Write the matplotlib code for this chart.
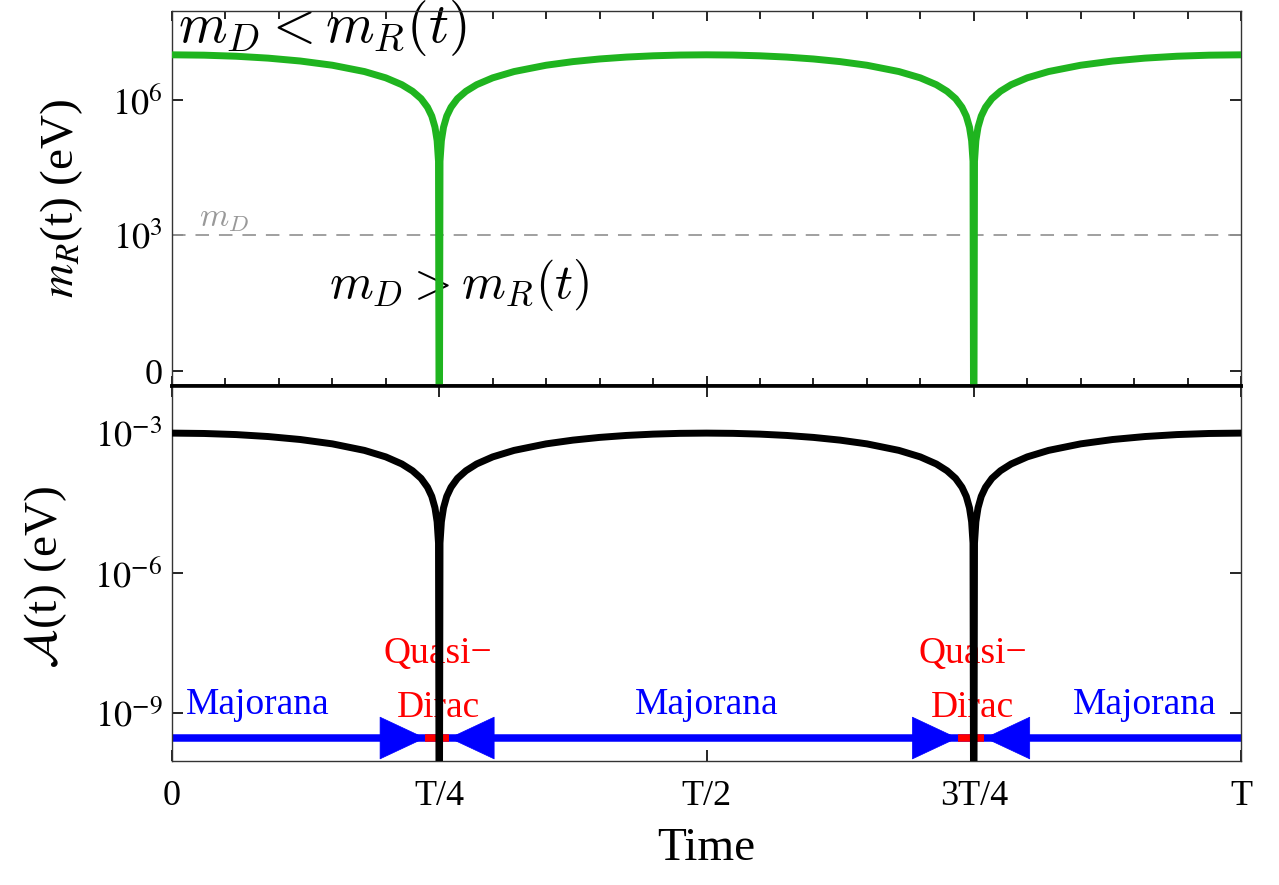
import numpy as np
import matplotlib.pyplot as plt
from matplotlib.ticker import FixedLocator, MultipleLocator, NullLocator

plt.rcParams['font.family'] = ['Liberation Serif', 'DejaVu Serif']
plt.rcParams['mathtext.fontset'] = 'stix'

# --- data (time in units of T) ---
t = [0.0, 0.03, 0.06, 0.09, 0.12, 0.15, 0.18, 0.2, 0.215, 0.225, 0.233, 0.239, 0.243, 0.246, 0.248, 0.2493,
     0.25,
     0.2507, 0.252, 0.254, 0.257, 0.261, 0.267, 0.275, 0.285, 0.3, 0.32, 0.35, 0.375, 0.4, 0.425, 0.45, 0.475,
     0.5,
     0.525, 0.55, 0.575, 0.6, 0.625, 0.65, 0.68, 0.7, 0.715, 0.725, 0.733, 0.739, 0.743, 0.746, 0.748, 0.7493,
     0.75,
     0.7507, 0.752, 0.754, 0.757, 0.761, 0.767, 0.775, 0.785, 0.8, 0.82, 0.85, 0.88, 0.91, 0.94, 0.97, 1.0]

# right-handed neutrino mass m_R(t) in eV (green)
m_R = [1.0e7, 9.82e6, 9.30e6, 8.44e6, 7.29e6, 5.88e6, 4.26e6, 3.09e6, 2.18e6, 1.56e6, 1.07e6, 6.9e5, 4.4e5, 2.5e5, 1.26e5, 4.4e4,
       1e-3,
       4.4e4, 1.26e5, 2.5e5, 4.4e5, 6.9e5, 1.07e6, 1.56e6, 2.18e6, 3.09e6, 4.26e6, 5.88e6, 7.07e6, 8.09e6, 8.91e6, 9.51e6, 9.88e6,
       1.0e7,
       9.88e6, 9.51e6, 8.91e6, 8.09e6, 7.07e6, 5.88e6, 4.26e6, 3.09e6, 2.18e6, 1.56e6, 1.07e6, 6.9e5, 4.4e5, 2.5e5, 1.26e5, 4.4e4,
       1e-3,
       4.4e4, 1.26e5, 2.5e5, 4.4e5, 6.9e5, 1.07e6, 1.56e6, 2.18e6, 3.09e6, 4.26e6, 5.88e6, 7.29e6, 8.44e6, 9.30e6, 9.82e6, 1.0e7]

# A(t) in eV (black)
A_t = [1.0e-3, 9.82e-4, 9.30e-4, 8.44e-4, 7.29e-4, 5.88e-4, 4.26e-4, 3.09e-4, 2.18e-4, 1.56e-4, 1.07e-4, 6.9e-5, 4.4e-5, 2.5e-5, 1.26e-5, 4.4e-6,
       1e-13,
       4.4e-6, 1.26e-5, 2.5e-5, 4.4e-5, 6.9e-5, 1.07e-4, 1.56e-4, 2.18e-4, 3.09e-4, 4.26e-4, 5.88e-4, 7.07e-4, 8.09e-4, 8.91e-4, 9.51e-4, 9.88e-4,
       1.0e-3,
       9.88e-4, 9.51e-4, 8.91e-4, 8.09e-4, 7.07e-4, 5.88e-4, 4.26e-4, 3.09e-4, 2.18e-4, 1.56e-4, 1.07e-4, 6.9e-5, 4.4e-5, 2.5e-5, 1.26e-5, 4.4e-6,
       1e-13,
       4.4e-6, 1.26e-5, 2.5e-5, 4.4e-5, 6.9e-5, 1.07e-4, 1.56e-4, 2.18e-4, 3.09e-4, 4.26e-4, 5.88e-4, 7.29e-4, 8.44e-4, 9.30e-4, 9.82e-4, 1.0e-3]

m_D = 1e3  # eV

x_ticks = [0, 0.25, 0.5, 0.75, 1.0]
x_ticklabels = ['0', 'T/4', 'T/2', '3T/4', 'T']
top_yticks = [1, 1e3, 1e6]
top_yticklabels = ['0', r'$10^{3}$', r'$10^{6}$']
bot_yticks = [1e-9, 1e-6, 1e-3]
bot_yticklabels = [r'$10^{-9}$', r'$10^{-6}$', r'$10^{-3}$']

# regime band along the bottom
band_level = 2.9e-10
quasi_dirac = [(0.237, 0.259), (0.735, 0.760)]
majorana_x = [0.08, 0.5, 0.91]
quasi_x = [0.249, 0.749]
head_len = 0.042

green = '#1fb41f'

fig = plt.figure(figsize=(12.79, 8.85), dpi=100)
ax1 = fig.add_axes([172/1279, 499/885, 1069/1279, 375/885])
ax2 = fig.add_axes([172/1279, 124/885, 1069/1279, 375/885])

# --- top panel ---
ax1.plot(t, m_R, color=green, lw=5, solid_joinstyle='round', zorder=3)
ax1.axhline(m_D, color='#999999', lw=1.3, dashes=(7.5, 5.5), zorder=2)
ax1.set_yscale('log')
ax1.set_xlim(0, 1)
ax1.set_ylim(10**-0.332, 10**7.97)
ax1.yaxis.set_major_locator(FixedLocator(top_yticks))
ax1.set_yticklabels(top_yticklabels)
ax1.yaxis.set_minor_locator(NullLocator())
ax1.xaxis.set_major_locator(FixedLocator(x_ticks))
ax1.xaxis.set_minor_locator(MultipleLocator(0.05))
ax1.tick_params(axis='x', which='both', direction='in', top=True, bottom=True, labelbottom=False)
ax1.tick_params(axis='x', which='major', length=7, width=1.2)
ax1.tick_params(axis='x', which='minor', length=6, width=1.2)
ax1.tick_params(axis='y', which='major', direction='in', left=True, right=True, length=8, width=1.2,
                labelsize=26, pad=7)
ax1.set_ylabel(r'$m_R$(t) (eV)', fontsize=34, va='center')
ax1.yaxis.set_label_coords(-0.103, 0.50)

ax1.text(0.006, 0.955, r'$m_D < m_R(t)$', transform=ax1.transAxes, fontsize=40,
         math_fontfamily='cm', ha='left', va='center', zorder=1)
ax1.text(0.147, 0.27, r'$m_D > m_R(t)$', transform=ax1.transAxes, fontsize=36,
         math_fontfamily='cm', ha='left', va='center', zorder=1)
ax1.text(0.025, 0.447, r'$m_D$', transform=ax1.transAxes, fontsize=24, color='#999999',
         math_fontfamily='cm', ha='left', va='center', zorder=1)

# --- bottom panel ---
ax2.plot(t, A_t, color='black', lw=5, solid_joinstyle='round', zorder=4)
ax2.set_yscale('log')
ax2.set_xlim(0, 1)
ax2.set_ylim(10**-10.03, 10**-1.99)
ax2.yaxis.set_major_locator(FixedLocator(bot_yticks))
ax2.set_yticklabels(bot_yticklabels)
ax2.yaxis.set_minor_locator(NullLocator())
ax2.xaxis.set_major_locator(FixedLocator(x_ticks))
ax2.xaxis.set_minor_locator(NullLocator())
ax2.set_xticklabels(x_ticklabels)
ax2.tick_params(axis='x', which='major', direction='in', top=True, bottom=True, length=8, width=1.2,
                labelsize=26, pad=14)
ax2.tick_params(axis='y', which='major', direction='in', left=True, right=True, length=8, width=1.2,
                labelsize=26, pad=7)
ax2.set_ylabel(r'$\mathcal{A}$(t) (eV)', fontsize=34, va='center')
ax2.yaxis.set_label_coords(-0.118, 0.49)
ax2.set_xlabel('Time', fontsize=34, labelpad=10)

# blue Majorana band, red quasi-Dirac windows, arrowheads pointing at them
ax2.plot([0, 1], [band_level, band_level], color='blue', lw=5.4, solid_capstyle='butt', zorder=2)
for lo, hi in quasi_dirac:
    ax2.plot([lo, hi], [band_level, band_level], color='red', lw=5.4, solid_capstyle='butt', zorder=2.6)
    for tip, tail in [(lo, lo - head_len), (hi, hi + head_len)]:
        ax2.annotate('', xy=(tip, band_level), xytext=(tail, band_level),
                     arrowprops=dict(arrowstyle='-|>,head_length=3.2,head_width=1.5', mutation_scale=10,
                                     color='blue', lw=0.5, shrinkA=0, shrinkB=0), zorder=2.5)

for xm in majorana_x:
    ax2.text(xm, 10**-8.83, 'Majorana', color='blue', fontsize=27, ha='center', va='center', zorder=1)
for xq in quasi_x:
    ax2.text(xq, 10**-7.72, 'Quasi\u2212', color='red', fontsize=27, ha='center', va='center', zorder=1)
    ax2.text(xq, 10**-8.88, 'Dirac', color='red', fontsize=27, ha='center', va='center', zorder=1)

# spines: thin frame, heavy line where the panels meet
for ax in (ax1, ax2):
    for s in ax.spines.values():
        s.set_linewidth(1.0)
        s.set_color('#333333')
ax1.spines['bottom'].set_linewidth(2.6)
ax1.spines['bottom'].set_color('black')
ax2.spines['top'].set_linewidth(2.6)
ax2.spines['top'].set_color('black')

fig.savefig('out.png', dpi=100)
